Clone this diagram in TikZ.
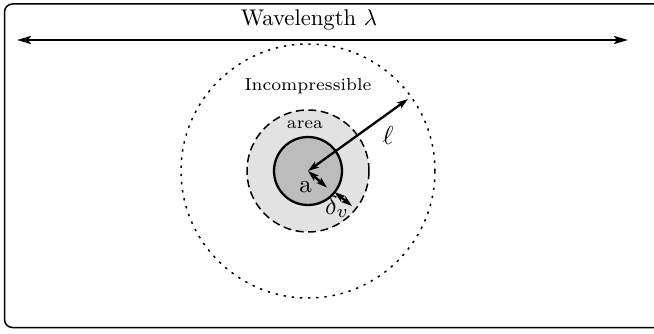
\documentclass[tikz,border=0pt]{standalone}
\usetikzlibrary{arrows.meta}
\definecolor{innergray}{RGB}{188,188,188}
\definecolor{outergray}{RGB}{226,226,226}
\tikzset{
  dblarrow/.style={line width=2.3pt,{Stealth[length=11pt,width=7pt,inset=2.5pt]}-{Stealth[length=11pt,width=7pt,inset=2.5pt]}},
  bigarrow/.style={line width=2.6pt,{Stealth[length=14pt,width=8pt,inset=3pt]}-{Stealth[length=14pt,width=8pt,inset=3pt]}},
  lbl/.style={inner sep=0pt},
}
\begin{document}
\begin{tikzpicture}[x=1pt,y=-1pt]
\useasboundingbox (0,0) rectangle (654,334);
\clip (0,0) rectangle (654,334);
\draw[line width=1.5pt, rounded corners=8pt] (4.5,4) rectangle (680,327.5);
\coordinate (C) at (308,171);
% circles
\node[circle, minimum size=254pt, inner sep=0pt, draw, line width=1.5pt, dash pattern=on 2.4pt off 5.8pt] (dotc) at (C) {};
\node[circle, minimum size=122pt, inner sep=0pt, fill=outergray, draw, line width=1.5pt, dash pattern=on 8pt off 4.5pt] (dashc) at (C) {};
\node[circle, minimum size=68pt, inner sep=0pt, fill=innergray, draw, line width=2.3pt] (innc) at (C) {};
% arrow end points
\coordinate (wlL) at (17,40);
\coordinate (wlR) at (628,40);
\coordinate (lend) at (408,99);
\coordinate (aend) at (327,187.5);
\coordinate (dA) at (334.5,192);
\coordinate (dB) at (352,206);
% arrows
\draw[bigarrow] (wlL) -- (wlR);
\draw[dblarrow] (C) -- (lend);
\draw[dblarrow] (C) -- (aend);
\draw[dblarrow] (dA) -- (dB);
% labels
\node[lbl] (wl) at (309,20) {\resizebox{136pt}{!}{Wavelength $\lambda$}};
\node[lbl] (inc) at (308,86) {\resizebox{127pt}{!}{\fontsize{7}{8}\selectfont Incompressible}};
\node[lbl] (area) at (305,125) {\resizebox{36pt}{!}{\fontsize{7}{8}\selectfont area}};
\node[lbl, scale=2.5] (alab) at (305.5,187) {a};
\node[lbl, scale=2.6] (ell) at (388,135) {$\ell$};
\node[lbl, scale=2.6] (dv) at (337,207) {$\delta_v$};
\end{tikzpicture}
\end{document}
